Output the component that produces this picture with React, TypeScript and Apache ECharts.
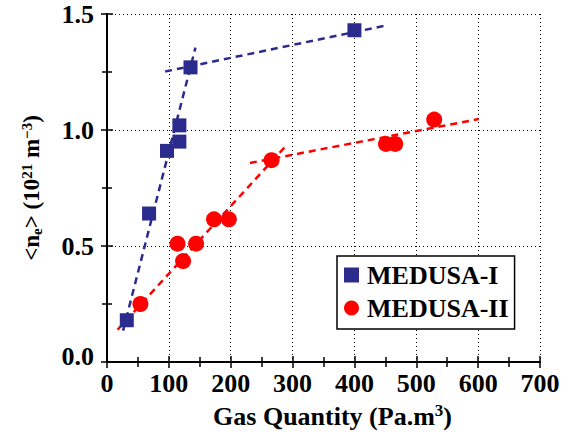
import React, { useEffect, useRef } from "react";
import * as echarts from "echarts";

const medusa1: [number, number][] = [
  [32, 0.18],
  [68, 0.64],
  [97, 0.91],
  [117, 0.95],
  [117, 1.02],
  [135, 1.27],
  [400, 1.43],
];
const medusa2: [number, number][] = [
  [54, 0.25],
  [114, 0.51],
  [123, 0.435],
  [144, 0.51],
  [173, 0.615],
  [197, 0.615],
  [266, 0.87],
  [451, 0.94],
  [466, 0.94],
  [529, 1.045],
];
const fit1Steep: [number, number][] = [
  [26, 0.135],
  [143, 1.355],
];
const fit1Flat: [number, number][] = [
  [94, 1.252],
  [452, 1.451],
];
const fit2Steep: [number, number][] = [
  [17, 0.139],
  [287, 0.925],
];
const fit2Flat: [number, number][] = [
  [231, 0.858],
  [601, 1.047],
];
const xTicks = [0, 100, 200, 300, 400, 500, 600, 700];
const yTicks = [0, 0.5, 1.0, 1.5];

const BLUE = "#2B2B8E";
const RED = "#FF0000";
const FONT = "Liberation Serif, Times New Roman, serif";

export default function App() {
  const ref = useRef<HTMLDivElement>(null);
  useEffect(() => {
    if (!ref.current) return;
    const chart = echarts.init(ref.current, undefined, { renderer: "svg" });
    const axisLine = { show: true, lineStyle: { color: "#000", width: 2 } };
    const tick = { show: true, inside: true, length: 6, lineStyle: { color: "#000", width: 1.5 } };
    const minor = { show: true, splitNumber: 2, length: 5, lineStyle: { color: "#000", width: 1.5 } };
    const fitLine = (name: string, data: [number, number][], color: string) => ({
      type: "line",
      name,
      data,
      symbol: "none",
      z: 2,
      lineStyle: { color, width: 2.5, type: [7, 5] },
    });
    chart.setOption({
      animation: false,
      backgroundColor: "#fff",
      grid: { left: 107, right: 28, top: 14, bottom: 72 },
      legend: {
        orient: "vertical",
        left: 337,
        top: 256,
        data: [
          { name: "MEDUSA-I", icon: "rect" },
          { name: "MEDUSA-II", icon: "circle" },
        ],
        itemWidth: 15,
        itemHeight: 15,
        itemGap: 7,
        padding: [6, 6, 8, 7],
        backgroundColor: "#fff",
        borderColor: "#000",
        borderWidth: 1.5,
        borderRadius: 0,
        textStyle: {
          fontFamily: FONT,
          fontWeight: "bold",
          fontSize: 26,
          color: "#000",
          padding: [0, 0, 0, 3],
        },
      },
      xAxis: [
        {
          type: "value",
          min: xTicks[0],
          max: xTicks[xTicks.length - 1],
          interval: 100,
          axisLine,
          axisTick: tick,
          minorTick: minor,
          splitLine: { show: true, lineStyle: { color: "#000", width: 1, type: [1, 3] } },
          axisLabel: {
            margin: 8,
            fontFamily: FONT,
            fontWeight: "bold",
            fontSize: 26,
            color: "#000",
          },
          name: "{a|Gas Quantity (Pa.m}{s|3}{a|)}",
          nameLocation: "middle",
          nameGap: 40,
          nameTextStyle: {
            padding: [0, 0, 0, 18],
            rich: {
              a: { fontFamily: FONT, fontWeight: "bold", fontSize: 26, color: "#000" },
              s: { fontFamily: FONT, fontWeight: "bold", fontSize: 17, color: "#000", padding: [0, 0, 11, 0] },
            },
          },
        },
        {
          type: "value",
          position: "top",
          min: xTicks[0],
          max: xTicks[xTicks.length - 1],
          interval: 100,
          axisLine,
          axisTick: tick,
          minorTick: minor,
          splitLine: { show: false },
          axisLabel: { show: false },
        },
      ],
      yAxis: [
        {
          type: "value",
          min: yTicks[0],
          max: yTicks[yTicks.length - 1],
          interval: 0.5,
          axisLine,
          axisTick: tick,
          minorTick: minor,
          splitLine: { show: true, lineStyle: { color: "#000", width: 1, type: [1, 3] } },
          axisLabel: {
            margin: 13,
            formatter: (v: number) => (v === 0 ? "{z|0.0}" : "{n|" + v.toFixed(1) + "}"),
            rich: {
              n: { fontFamily: FONT, fontWeight: "bold", fontSize: 26, color: "#000" },
              z: { fontFamily: FONT, fontWeight: "bold", fontSize: 26, color: "#000", padding: [0, 0, 12, 0] },
            },
          },
          name: "{a|<n}{b|e}{a|> (10}{s|21}{a| m}{s|−3}{a|)}",
          nameLocation: "middle",
          nameRotate: 90,
          nameGap: 63,
          nameTextStyle: {
            rich: {
              a: { fontFamily: FONT, fontWeight: "bold", fontSize: 23, color: "#000" },
              b: { fontFamily: FONT, fontWeight: "bold", fontSize: 15, color: "#000", padding: [10, 0, 0, 0] },
              s: { fontFamily: FONT, fontWeight: "bold", fontSize: 15, color: "#000", padding: [0, 0, 10, 0] },
            },
          },
        },
        {
          type: "value",
          position: "right",
          min: yTicks[0],
          max: yTicks[yTicks.length - 1],
          interval: 0.5,
          axisLine,
          axisTick: tick,
          minorTick: minor,
          splitLine: { show: false },
          axisLabel: { show: false },
        },
      ],
      series: [
        fitLine("fit1a", fit1Steep, BLUE),
        fitLine("fit1b", fit1Flat, BLUE),
        fitLine("fit2a", fit2Steep, RED),
        fitLine("fit2b", fit2Flat, RED),
        {
          type: "scatter",
          name: "MEDUSA-I",
          data: medusa1,
          symbol: "rect",
          symbolSize: 14,
          z: 5,
          itemStyle: { color: BLUE, opacity: 1 },
        },
        {
          type: "scatter",
          name: "MEDUSA-II",
          data: medusa2,
          symbol: "circle",
          symbolSize: 16,
          z: 5,
          itemStyle: { color: RED, opacity: 1 },
        },
      ],
    });
    return () => chart.dispose();
  }, []);
  return (
    <div
      ref={ref}
      style={{ position: "fixed", left: 0, top: 0, width: 568, height: 434 }}
    />
  );
}
